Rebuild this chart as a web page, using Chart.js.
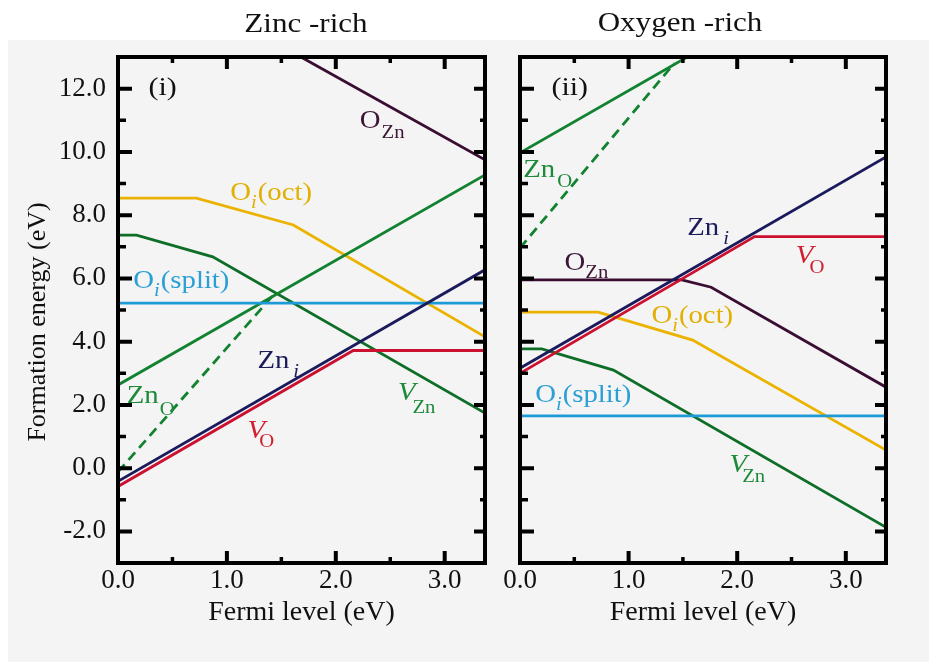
<!DOCTYPE html>
<html>
<head>
<meta charset="utf-8">
<title>Defect formation energies in ZnO</title>
<script src="https://cdn.jsdelivr.net/npm/chart.js@4.4.1/dist/chart.umd.min.js"></script>
<style>
  html, body { margin: 0; padding: 0; background: #ffffff; }
  #stage { position: relative; width: 929px; height: 662px; overflow: hidden; }
  #sheet { position: absolute; left: 8px; top: 40px; right: 0; bottom: 0; background: #f4f4f4; }
  canvas { position: absolute; top: 0; }
  #znRich { left: 0; }
  #oRich { left: 490px; }
</style>
</head>
<body>
<div id="stage">
  <div id="sheet"></div>
  <canvas id="znRich" width="490" height="662"></canvas>
  <canvas id="oRich" width="439" height="662"></canvas>
</div>
<script>
// ---- axes ----
const fermiMin = 0;
const fermiMax = 3.37;           // band gap edge (eV)
const energyMin = -3;
const energyMax = 13;
const xTicks = [0, 1, 2, 3];
const xMinorTicks = [0.5, 1.5, 2.5];
const yTicks = [-2, 0, 2, 4, 6, 8, 10, 12];
const yMinorTicks = [-1, 1, 3, 5, 7, 9, 11];

// ---- Zn-rich limit: [Fermi level, formation energy] (eV) ----
const znRich_OZn      = [[1.68, 13.0], [3.37, 9.75]];
const znRich_OiOct    = [[0, 8.54], [0.72, 8.54], [1.61, 7.69], [3.37, 4.15]];
const znRich_VZn      = [[0, 7.37], [0.17, 7.37], [0.87, 6.68], [3.37, 1.74]];
const znRich_ZnO      = [[0, 2.63], [3.37, 9.27]];
const znRich_ZnO_meta = [[0, -0.12], [1.42, 5.45]];
const znRich_Zni      = [[0, -0.42], [3.37, 6.27]];
const znRich_VO       = [[0, -0.58], [2.16, 3.72], [3.37, 3.72]];
const znRich_OiSplit  = [[0, 5.22], [3.37, 5.22]];

// ---- O-rich limit: [Fermi level, formation energy] (eV) ----
const oRich_ZnO      = [[0, 9.97], [1.54, 13.0]];
const oRich_ZnO_meta = [[0, 6.96], [1.42, 12.8]];
const oRich_Zni      = [[0, 3.16], [3.37, 9.84]];
const oRich_VO       = [[0, 3.0], [2.16, 7.32], [3.37, 7.32]];
const oRich_OZn      = [[0, 5.95], [1.49, 5.95], [1.76, 5.72], [3.37, 2.56]];
const oRich_OiOct    = [[0, 4.93], [0.72, 4.93], [1.59, 4.05], [3.37, 0.57]];
const oRich_VZn      = [[0, 3.77], [0.2, 3.77], [0.86, 3.10], [3.37, -1.87]];
const oRich_OiSplit  = [[0, 1.65], [3.37, 1.65]];

// ---- colours ----
const C = {
  OZn: '#3a0d33', OiOct: '#ebb300', VZn: '#0e6e27', ZnO: '#118230',
  Zni: '#1a1a5c', VO: '#cc1030', OiSplit: '#1e9bd7', ink: '#111111'
};
const LABEL = {
  OZn: '#3d1535', OiOct: '#e2b000', VZn: '#1c8a38', ZnO: '#1c8a38',
  Zni: '#1c1c5a', VO: '#d0202e', OiSplit: '#2a9fd6'
};

const SERIF = "'Liberation Serif', 'Times New Roman', serif";
Chart.defaults.font.family = SERIF;
Chart.defaults.color = C.ink;

function series(points, color, dashed) {
  return {
    data: points.map(([x, y]) => ({ x, y })),
    borderColor: color,
    backgroundColor: color,
    borderWidth: 2.8,
    borderDash: dashed ? [10, 6] : [],
    pointRadius: 0,
    showLine: true,
    fill: false,
    tension: 0
  };
}

// horizontally widened serif text, as in the printed figure
const SX = 1.15;
function wideText(ctx, str, x, y, font) {
  ctx.save();
  ctx.font = font;
  const w = ctx.measureText(str).width * SX;
  ctx.translate(x, y);
  ctx.scale(SX, 1);
  ctx.fillText(str, 0, 0);
  ctx.restore();
  return w;
}

// frame, inward ticks, curve labels, headings
function panelPlugin(cfg) {
  return {
    id: 'panel_' + cfg.id,
    afterDatasetsDraw(chart) {
      const { ctx, chartArea: a, scales: { x, y } } = chart;
      ctx.save();
      ctx.textBaseline = 'alphabetic';
      ctx.textAlign = 'left';

      // curve labels (anchored in data units)
      cfg.labels.forEach(l => {
        const px = x.getPixelForValue(l.x);
        const py = y.getPixelForValue(l.y);
        ctx.fillStyle = l.color;
        let cx = px;
        cx += wideText(ctx, l.main, cx, py, (l.mainItalic ? 'italic ' : '') + '25px ' + SERIF);
        cx += (l.subDx || 0);
        cx += wideText(ctx, l.sub, cx, py + (l.subDy || 9), (l.subItalic ? 'italic ' : '') + '18px ' + SERIF);
        if (l.tail) wideText(ctx, l.tail, cx + 1, py, '25px ' + SERIF);
      });

      // panel tag
      ctx.fillStyle = C.ink;
      wideText(ctx, cfg.tag.text, x.getPixelForValue(cfg.tag.x), y.getPixelForValue(cfg.tag.y), '26px ' + SERIF);

      // heading above the panel
      ctx.font = '27px ' + SERIF;
      const hw = ctx.measureText(cfg.heading.text).width * SX;
      wideText(ctx, cfg.heading.text, cfg.heading.cx - hw / 2, cfg.heading.baseline, '27px ' + SERIF);

      // vertical axis title
      if (cfg.yTitle) {
        ctx.save();
        ctx.font = '26px ' + SERIF;
        ctx.textAlign = 'center';
        ctx.textBaseline = 'middle';
        ctx.translate(cfg.yTitle.cx, cfg.yTitle.cy);
        ctx.rotate(-Math.PI / 2);
        ctx.fillText(cfg.yTitle.text, 0, 0);
        ctx.restore();
      }

      // inward tick marks on all four sides
      ctx.strokeStyle = '#000';
      ctx.lineCap = 'butt';
      const vTick = (vals, lenB, lenT, w) => {
        ctx.lineWidth = w;
        vals.forEach(v => {
          const p = x.getPixelForValue(v);
          ctx.beginPath();
          ctx.moveTo(p, a.bottom); ctx.lineTo(p, a.bottom - lenB);
          ctx.moveTo(p, a.top); ctx.lineTo(p, a.top + lenT);
          ctx.stroke();
        });
      };
      const hTick = (vals, lenL, lenR, w) => {
        ctx.lineWidth = w;
        vals.forEach(v => {
          const p = y.getPixelForValue(v);
          ctx.beginPath();
          ctx.moveTo(a.left, p); ctx.lineTo(a.left + lenL, p);
          ctx.moveTo(a.right, p); ctx.lineTo(a.right - lenR, p);
          ctx.stroke();
        });
      };
      vTick(xTicks, 12, 12, 4);
      vTick(xMinorTicks, 6, 6, 3.5);
      hTick(yTicks, 14, 11, 4);
      hTick(yMinorTicks, 8, 5, 3.5);

      // frame
      ctx.lineWidth = 4;
      ctx.strokeRect(a.left, a.top, a.right - a.left, a.bottom - a.top);
      ctx.restore();
    }
  };
}

function makePanel(canvas, datasets, cfg) {
  return new Chart(canvas, {
    type: 'scatter',
    data: { datasets },
    options: {
      responsive: false,
      animation: false,
      devicePixelRatio: 1,
      events: [],
      layout: { padding: { top: 57, right: cfg.padRight, left: 0, bottom: 0 } },
      plugins: { legend: { display: false }, tooltip: { enabled: false }, title: { display: false } },
      scales: {
        x: {
          type: 'linear', min: fermiMin, max: fermiMax,
          grid: { display: false, drawTicks: false }, border: { display: false },
          afterBuildTicks: s => { s.ticks = xTicks.map(v => ({ value: v })); },
          afterFit: s => { s.height = 99; },
          ticks: { padding: 2, autoSkip: false, maxRotation: 0, color: C.ink,
                   font: { size: 27 }, callback: v => Number(v).toFixed(1) },
          title: { display: true, text: 'Fermi level (eV)', color: C.ink,
                   font: { size: 28 }, padding: { top: 0, bottom: 33 } }
        },
        y: {
          type: 'linear', min: energyMin, max: energyMax,
          grid: { display: false, drawTicks: false }, border: { display: false },
          afterBuildTicks: s => { s.ticks = yTicks.map(v => ({ value: v })); },
          afterFit: s => { s.width = cfg.yWidth; },
          ticks: { display: cfg.yLabels, padding: 12, color: C.ink,
                   font: { size: 27 }, callback: v => Number(v).toFixed(1) },
          title: { display: false }
        }
      }
    },
    plugins: [panelPlugin(cfg)]
  });
}

// (i) Zinc-rich
makePanel(document.getElementById('znRich'), [
  series(znRich_VO, C.VO),
  series(znRich_Zni, C.Zni),
  series(znRich_OiSplit, C.OiSplit),
  series(znRich_ZnO, C.ZnO),
  series(znRich_ZnO_meta, C.ZnO, true),
  series(znRich_VZn, C.VZn),
  series(znRich_OiOct, C.OiOct),
  series(znRich_OZn, C.OZn)
], {
  id: 'zn', yWidth: 118, padRight: 5, yLabels: true,
  yTitle: { text: 'Formation energy (eV)', cx: 38, cy: 322 },
  heading: { text: 'Zinc -rich', cx: 306, baseline: 32 },
  tag: { text: '(i)', x: 0.28, y: 11.8 },
  labels: [
    { main: 'O', sub: 'Zn', x: 2.22, y: 10.75, color: LABEL.OZn, subDx: 1, subDy: 10 },
    { main: 'O', sub: 'i', subItalic: true, tail: '(oct)', x: 1.03, y: 8.48, color: LABEL.OiOct, subDx: 0, subDy: 8 },
    { main: 'O', sub: 'i', subItalic: true, tail: '(split)', x: 0.14, y: 5.69, color: LABEL.OiSplit, subDx: 0, subDy: 8 },
    { main: 'Zn', sub: 'i', subItalic: true, x: 1.28, y: 3.16, color: LABEL.Zni, subDx: 4, subDy: 9 },
    { main: 'Zn', sub: 'O', x: 0.08, y: 2.06, color: LABEL.ZnO, subDx: 1, subDy: 12 },
    { main: 'V', mainItalic: true, sub: 'O', x: 1.19, y: 0.95, color: LABEL.VO, subDx: -6, subDy: 9 },
    { main: 'V', mainItalic: true, sub: 'Zn', x: 2.57, y: 2.15, color: LABEL.VZn, subDx: -3, subDy: 13 }
  ]
});

// (ii) Oxygen-rich
makePanel(document.getElementById('oRich'), [
  series(oRich_VO, C.VO),
  series(oRich_Zni, C.Zni),
  series(oRich_OiSplit, C.OiSplit),
  series(oRich_ZnO, C.ZnO),
  series(oRich_ZnO_meta, C.ZnO, true),
  series(oRich_VZn, C.VZn),
  series(oRich_OiOct, C.OiOct),
  series(oRich_OZn, C.OZn)
], {
  id: 'o', yWidth: 30, padRight: 43, yLabels: false,
  heading: { text: 'Oxygen -rich', cx: 680 - 490, baseline: 31 },
  tag: { text: '(ii)', x: 0.29, y: 11.8 },
  labels: [
    { main: 'Zn', sub: 'O', x: 0.03, y: 9.2, color: LABEL.ZnO, subDx: 2, subDy: 10 },
    { main: 'Zn', sub: 'i', subItalic: true, x: 1.54, y: 7.37, color: LABEL.Zni, subDx: 4, subDy: 9 },
    { main: 'V', mainItalic: true, sub: 'O', x: 2.54, y: 6.48, color: LABEL.VO, subDx: -4, subDy: 10 },
    { main: 'O', sub: 'Zn', x: 0.41, y: 6.26, color: LABEL.OZn, subDx: 0, subDy: 8 },
    { main: 'O', sub: 'i', subItalic: true, tail: '(oct)', x: 1.21, y: 4.58, color: LABEL.OiOct, subDx: 0, subDy: 8 },
    { main: 'O', sub: 'i', subItalic: true, tail: '(split)', x: 0.14, y: 2.09, color: LABEL.OiSplit, subDx: 0, subDy: 8 },
    { main: 'V', mainItalic: true, sub: 'Zn', x: 1.93, y: -0.13, color: LABEL.VZn, subDx: -5, subDy: 10 }
  ]
});
</script>
</body>
</html>
